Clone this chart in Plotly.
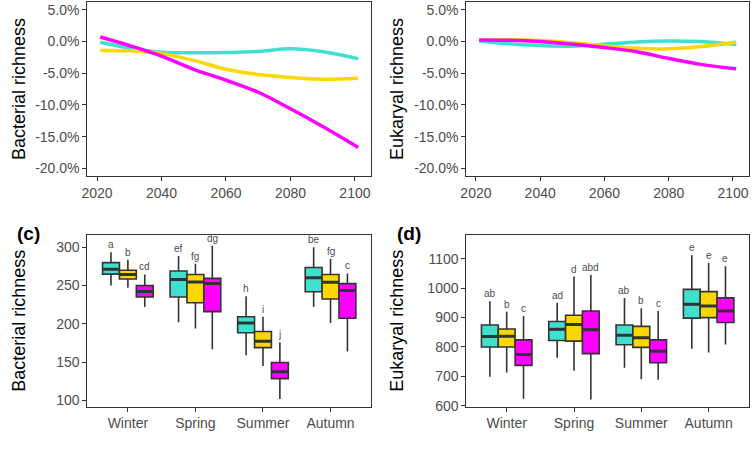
import plotly.graph_objects as go

# ---- data ----
years = [2021, 2030, 2040, 2050, 2060, 2070, 2080, 2090, 2101]

# bacterial richness change (%)
bac_cyan = [-0.1, -1.0, -1.7, -1.77, -1.72, -1.56, -1.15, -1.6, -2.7]
bac_yellow = [-1.4, -1.45, -1.9, -2.97, -4.38, -5.2, -5.68, -5.94, -5.78]
bac_magenta = [0.73, -0.62, -2.29, -4.38, -6.1, -8.0, -10.6, -13.4, -16.7]

# eukaryal richness change (%)
euk_cyan = [0.1, -0.36, -0.63, -0.73, -0.42, -0.05, 0.1, 0.0, -0.47]
euk_yellow = [0.2, 0.3, 0.16, -0.2, -0.68, -1.04, -1.15, -0.78, -0.1]
euk_magenta = [0.26, 0.2, 0.0, -0.42, -0.94, -1.6, -2.66, -3.6, -4.3]

pct_ticks = [5, 0, -5, -10, -15, -20]
pct_labels = ["5.0%", "0.0%", "-5.0%", "-10.0%", "-15.0%", "-20.0%"]
year_ticks = [2020, 2040, 2060, 2080, 2100]

seasons = ["Winter", "Spring", "Summer", "Autumn"]

# bacterial boxes: cyan, yellow, magenta
bac_low = [[250, 202, 159, 222], [247, 194, 145, 201], [222, 167, 102, 164]]
bac_q1 = [[265, 235, 188.5, 242], [258.5, 227.5, 169, 232.5], [235, 216, 128.6, 207.3]]
bac_med = [[271.4, 258, 201.3, 260.3], [264.5, 254.7, 177.4, 254.3], [242.3, 252.6, 137.6, 243.6]]
bac_q3 = [[280, 269, 209.4, 273.5], [270, 264.5, 190, 264.5], [250, 259.4, 149.6, 252.6]]
bac_high = [[293.6, 288.5, 236, 300], [283.8, 278.6, 209.4, 285], [264.5, 302, 176, 265.8]]
bac_letters = [["a", "ef", "h", "be"], ["b", "fg", "i", "fg"], ["cd", "dg", "j", "c"]]

# eukaryal boxes
euk_low = [[699, 763, 729.5, 794], [712.7, 719.4, 690.4, 780.8], [623.4, 621, 688.2, 808.7]]
euk_q1 = [[799.8, 822, 807.6, 898], [799.8, 819.9, 798.7, 900], [737.3, 777.5, 746.2, 883.5]]
euk_med = [[835.5, 860, 840, 945], [836.6, 876.8, 831, 939.3], [774, 859, 785.3, 922.5]]
euk_q3 = [[874.6, 886.8, 874.6, 996], [861, 908, 870, 988.4], [824.3, 922.5, 824.3, 967]]
euk_high = [[956, 950.4, 967, 1112], [920, 1039.7, 931.5, 1085.5], [905.8, 1045.3, 922.5, 1074.3]]
euk_letters = [["ab", "ad", "ab", "e"], ["b", "d", "b", "e"], ["c", "abd", "c", "e"]]

colors = ["#40E0D0", "#FFD700", "#FF00FF"]
font_family = "Liberation Sans, Arial, sans-serif"
tick_grey = "#4D4D4D"
line_grey = "#333333"

fig = go.Figure()

# ---- top line panels ----
for vals, c in zip([bac_cyan, bac_yellow, bac_magenta], colors):
    fig.add_trace(go.Scatter(x=years, y=vals, mode="lines", line=dict(color=c, width=3.5, shape="spline", smoothing=1),
                             xaxis="x", yaxis="y", showlegend=False))
for vals, c in zip([euk_cyan, euk_yellow, euk_magenta], colors):
    fig.add_trace(go.Scatter(x=years, y=vals, mode="lines", line=dict(color=c, width=3.5, shape="spline", smoothing=1),
                             xaxis="x2", yaxis="y2", showlegend=False))


# ---- bottom box panels ----
def add_boxes(low, q1, med, q3, high, letters, xa, ya, grp):
    for g in range(3):
        fig.add_trace(go.Box(x=seasons, q1=q1[g], median=med[g], q3=q3[g], lowerfence=low[g], upperfence=high[g],
                             fillcolor=colors[g], line=dict(color=line_grey, width=1.6), whiskerwidth=0,
                             offsetgroup=str(g), alignmentgroup=grp, xaxis=xa, yaxis=ya, showlegend=False,
                             hoverinfo="skip"))
        # thicker median line drawn on top
        fig.add_trace(go.Box(x=seasons, q1=med[g], median=med[g], q3=med[g], lowerfence=med[g], upperfence=med[g],
                             fillcolor=line_grey, line=dict(color=line_grey, width=3), whiskerwidth=0,
                             offsetgroup=str(g), alignmentgroup=grp, xaxis=xa, yaxis=ya, showlegend=False,
                             hoverinfo="skip"))
        for i in range(len(seasons)):
            fig.add_annotation(x=i + (g - 1) * 0.25, y=high[g][i], xref=xa, yref=ya,
                               text=letters[g][i], showarrow=False, yanchor="bottom", yshift=0,
                               font=dict(size=10, color=tick_grey, family=font_family))


add_boxes(bac_low, bac_q1, bac_med, bac_q3, bac_high, bac_letters, "x3", "y3", "c")
add_boxes(euk_low, euk_q1, euk_med, euk_q3, euk_high, euk_letters, "x4", "y4", "d")

axis_style = dict(showline=True, mirror=True, linecolor=line_grey, linewidth=1, ticks="outside", ticklen=4,
                  tickcolor=line_grey, showgrid=False, zeroline=False,
                  tickfont=dict(size=14, color=tick_grey, family=font_family))

left_dom = [82 / 753, 368 / 753]
right_dom = [464 / 753, 749 / 753]
top_dom = [1 - 179 / 453, 1 - 2 / 453]
bot_dom = [1 - 413 / 453, 1 - 238.7 / 453]

fig.update_layout(
    width=753, height=453, margin=dict(l=0, r=0, t=0, b=0),
    paper_bgcolor="white", plot_bgcolor="white",
    boxmode="group", boxgap=0.25, boxgroupgap=0,
    xaxis=dict(domain=left_dom, anchor="y", range=[2017, 2105], tickvals=year_ticks, **axis_style),
    yaxis=dict(domain=top_dom, anchor="x", range=[-21.25, 6.25], tickvals=pct_ticks, ticktext=pct_labels, **axis_style),
    xaxis2=dict(domain=right_dom, anchor="y2", range=[2017, 2105], tickvals=year_ticks, **axis_style),
    yaxis2=dict(domain=top_dom, anchor="x2", range=[-21.25, 6.25], tickvals=pct_ticks, ticktext=pct_labels, **axis_style),
    xaxis3=dict(domain=left_dom, anchor="y3", type="category", range=[-0.6, 3.6], **axis_style),
    yaxis3=dict(domain=bot_dom, anchor="x3", range=[92, 316], dtick=50, **axis_style),
    xaxis4=dict(domain=right_dom, anchor="y4", type="category", range=[-0.6, 3.6], **axis_style),
    yaxis4=dict(domain=bot_dom, anchor="x4", range=[597, 1181], dtick=100, **axis_style),
)

# axis titles and panel tags
title_font = dict(size=18, color="black", family=font_family)
for txt, x, y in [("Bacterial richness", 13, 90.5), ("Eukaryal richness", 394, 90.5),
                  ("Bacterial richness", 13, 326), ("Eukaryal richness", 394, 326)]:
    fig.add_annotation(x=x / 753, y=1 - y / 453, xref="paper", yref="paper", text=txt, textangle=-90,
                       showarrow=False, xanchor="center", yanchor="middle", font=title_font)
for txt, x in [("<b>(c)</b>", 22.5), ("<b>(d)</b>", 406)]:
    fig.add_annotation(x=x / 753, y=1 - 237.5 / 453, xref="paper", yref="paper", text=txt, showarrow=False,
                       xanchor="center", yanchor="middle", font=dict(size=19, color="black", family=font_family))

# page body has a default margin; drop it so the figure sits at the window corner
fig.write_html("out.html", config={"displayModeBar": False},
               post_script="document.body.style.margin='0';document.body.style.overflow='hidden';")
